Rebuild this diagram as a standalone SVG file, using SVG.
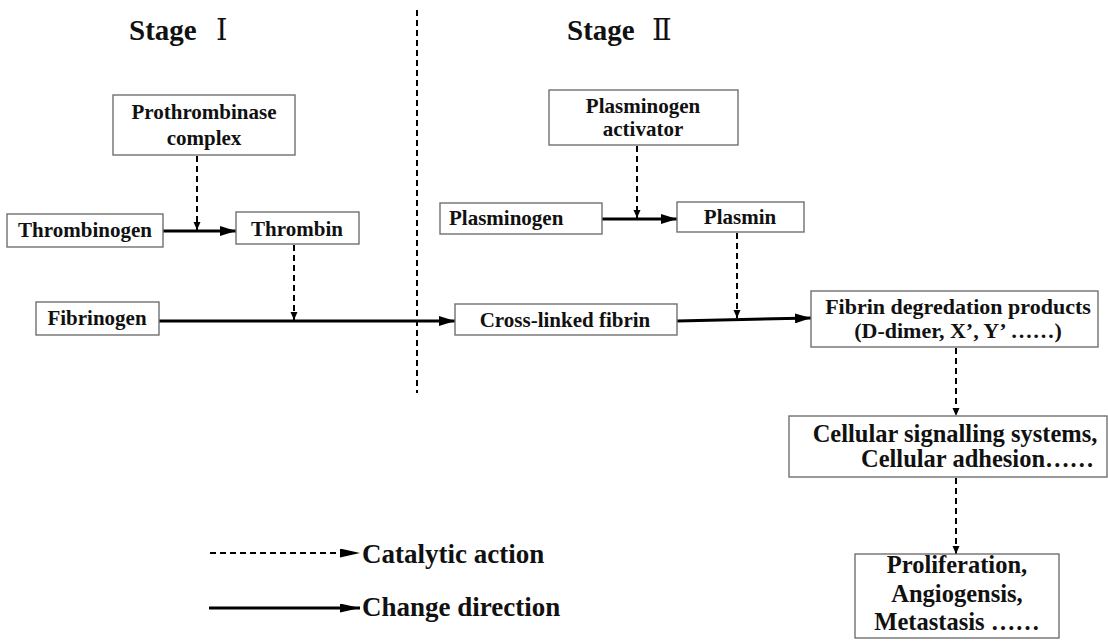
<svg xmlns="http://www.w3.org/2000/svg" width="1108" height="641" viewBox="0 0 1108 641">
<style>
.box{fill:#fff;stroke:#707070;stroke-width:1.4}
text{font-family:'Liberation Serif',serif;font-weight:bold;fill:#111}
.s{font-size:21px}
.m{font-size:22px}
.l{font-size:24.5px}
.stage{font-size:29px}
.leg{font-size:27px}
.rn{font-family:'DejaVu Serif','Noto Sans CJK SC',serif;font-weight:normal}
.sol{stroke:#000;stroke-width:3;fill:none}
.das{stroke:#000;stroke-width:2;stroke-dasharray:6 4;fill:none}
</style>
<defs>
<marker id="ah" viewBox="0 0 16 10" markerWidth="16" markerHeight="10" refX="16" refY="5" orient="auto" markerUnits="userSpaceOnUse"><path d="M0,0 L16,5 L0,10 z" fill="#000"/></marker>
<marker id="dh" viewBox="0 0 8 8" markerWidth="8" markerHeight="8" refX="8" refY="4" orient="auto" markerUnits="userSpaceOnUse"><path d="M0,0.5 L8,4 L0,7.5 z" fill="#000"/></marker>
<marker id="lh" viewBox="0 0 20 9" markerWidth="20" markerHeight="9" refX="20" refY="4.5" orient="auto" markerUnits="userSpaceOnUse"><path d="M0,0 L20,4.5 L0,9 z" fill="#000"/></marker>
</defs>
<rect width="1108" height="641" fill="#fff"/>
<text class="stage" x="129" y="40">Stage <tspan class="rn" dx="12">Ⅰ</tspan></text>
<text class="stage" x="567" y="40">Stage <tspan class="rn" dx="10">Ⅱ</tspan></text>
<g id="connectors">
<line class="das" x1="417" y1="10" x2="417" y2="393" stroke-dasharray="5 4"/>
<line class="das" x1="197" y1="156" x2="197" y2="230" marker-end="url(#dh)"/>
<line class="sol" x1="163" y1="231" x2="236" y2="231" marker-end="url(#ah)"/>
<line class="das" x1="294" y1="245" x2="294" y2="320" marker-end="url(#dh)"/>
<line class="sol" x1="159" y1="321" x2="455" y2="321" marker-end="url(#ah)"/>
<line class="das" x1="637" y1="146" x2="637" y2="218" marker-end="url(#dh)"/>
<line class="sol" x1="602" y1="219" x2="677" y2="219" marker-end="url(#ah)"/>
<line class="das" x1="737" y1="233" x2="737" y2="318" marker-end="url(#dh)"/>
<line class="sol" x1="677" y1="321" x2="811" y2="318" marker-end="url(#ah)"/>
<line class="das" x1="956" y1="348" x2="956" y2="416" marker-end="url(#dh)"/>
<line class="das" x1="956" y1="478" x2="956" y2="554" marker-end="url(#dh)"/>
</g>
<g id="prothrombinase"><rect class="box" x="113" y="95" width="182" height="60"/><text class="s" x="204" y="119" text-anchor="middle">Prothrombinase</text><text class="s" x="204" y="145" text-anchor="middle">complex</text></g>
<g id="thrombinogen"><rect class="box" x="7" y="214" width="156" height="33"/><text class="s" x="85" y="237" text-anchor="middle">Thrombinogen</text></g>
<g id="thrombin"><rect class="box" x="236" y="212" width="123" height="32"/><text class="s" x="297" y="236" text-anchor="middle">Thrombin</text></g>
<g id="fibrinogen"><rect class="box" x="36" y="302" width="123" height="33"/><text class="s" x="97" y="325" text-anchor="middle">Fibrinogen</text></g>
<g id="plasminogen-activator"><rect class="box" x="549" y="90" width="189" height="55"/><text class="s" x="643" y="113" text-anchor="middle">Plasminogen</text><text class="s" x="643" y="136" text-anchor="middle">activator</text></g>
<g id="plasminogen"><rect class="box" x="440" y="203" width="162" height="31"/><text class="s" x="449" y="225">Plasminogen</text></g>
<g id="plasmin"><rect class="box" x="677" y="202" width="127" height="30"/><text class="s" x="740" y="224" text-anchor="middle">Plasmin</text></g>
<g id="cross-linked-fibrin"><rect class="box" x="455" y="304" width="222" height="31"/><text class="s" x="565" y="327" text-anchor="middle">Cross-linked fibrin</text></g>
<g id="fdp"><rect class="box" x="811" y="291" width="287" height="56"/><text class="m" x="958" y="314" text-anchor="middle">Fibrin degredation products</text><text class="m" x="958" y="338" text-anchor="middle">(D-dimer, X’, Y’ ……)</text></g>
<g id="cellular"><rect class="box" x="789" y="416" width="318" height="61"/><text class="l" x="955" y="442" text-anchor="middle">Cellular signalling systems,</text><text class="l" x="861" y="467">Cellular adhesion……</text></g>
<g id="proliferation"><rect class="box" x="855" y="554" width="204" height="84"/><text class="l" x="957" y="573" text-anchor="middle">Proliferation,</text><text class="l" x="957" y="602" text-anchor="middle">Angiogensis,</text><text class="l" x="957" y="630" text-anchor="middle">Metastasis  ……</text></g>
<g id="legend">
<line class="das" x1="210" y1="553" x2="360" y2="553" stroke-dasharray="8 6" stroke-width="2.4" marker-end="url(#lh)"/>
<text class="leg" x="362" y="563">Catalytic action</text>
<line class="sol" x1="209" y1="608" x2="360" y2="608" marker-end="url(#lh)"/>
<text class="leg" x="362" y="616">Change direction</text>
</g>
</svg>
